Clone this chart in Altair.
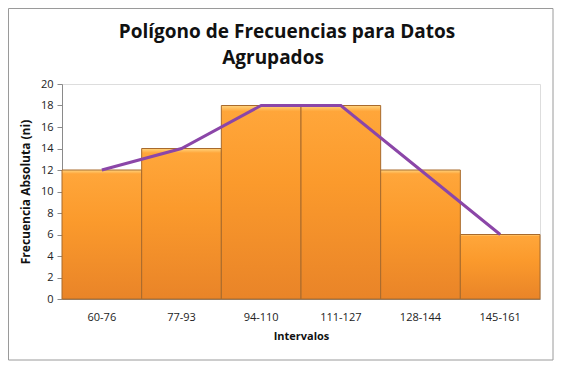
import altair as alt
import pandas as pd

intervalos = ["60-76", "77-93", "94-110", "111-127", "128-144", "145-161"]
frecuencias = [12, 14, 18, 18, 12, 6]
y_ticks = [0, 2, 4, 6, 8, 10, 12, 14, 16, 18, 20]
title_lines = ["Polígono de Frecuencias para Datos", "Agrupados"]

df = pd.DataFrame({"Intervalos": intervalos, "ni": frecuencias})

x_axis = alt.Axis(title="Intervalos", labelAngle=0, ticks=False,
                  labelFontSize=11, labelColor="#222222", labelPadding=12,
                  titleFontSize=11, titleFontWeight="bold", titleColor="#111111",
                  titlePadding=8, domainColor="#8a8a8a")
y_axis = alt.Axis(title="Frecuencia Absoluta (ni)", values=y_ticks, grid=True,
                  gridOpacity=0,
                  labelOverlap=False, labelSeparation=0,
                  labelFontSize=11, labelColor="#222222", tickColor="#8a8a8a",
                  tickSize=5, labelPadding=4, domainColor="#8a8a8a",
                  titleFontSize=12, titleFontWeight="bold", titleColor="#111111",
                  titlePadding=8)
x_scale = alt.Scale(paddingInner=0, paddingOuter=0)
y_scale = alt.Scale(domain=[0, 20], nice=False)

grad = alt.Gradient(
    gradient="linear", x1=0, y1=0, x2=0, y2=1,
    stops=[alt.GradientStop(color="#FFD47E", offset=0),
           alt.GradientStop(color="#FFA63A", offset=0.03),
           alt.GradientStop(color="#FB9A2C", offset=0.4),
           alt.GradientStop(color="#E98428", offset=1)])

bars = alt.Chart(df).mark_bar(fill=grad, stroke="#A86A2C", strokeWidth=1).encode(
    x=alt.X("Intervalos:N", sort=intervalos, scale=x_scale, axis=x_axis),
    y=alt.Y("ni:Q", scale=y_scale, axis=y_axis))
line = alt.Chart(df).mark_line(color="#8B46A8", strokeWidth=3, interpolate="linear").encode(
    x=alt.X("Intervalos:N", sort=intervalos, scale=x_scale, axis=x_axis),
    y=alt.Y("ni:Q", scale=y_scale, axis=y_axis))

frame = alt.Chart(pd.DataFrame({"a": [0]})).mark_rect(
    fill=None, stroke="#9a9a9a", strokeWidth=1).encode(
    x=alt.value(-53.5), x2=alt.value(491), y=alt.value(-75.5), y2=alt.value(276))

title1 = alt.Chart(pd.DataFrame({"t": [title_lines[0]]})).mark_text(
    font="Open Sans", fontSize=19, fontWeight="bold", color="#111111",
    align="center", baseline="alphabetic").encode(
    text="t:N", x=alt.value(225), y=alt.value(-46))
title2 = alt.Chart(pd.DataFrame({"t": [title_lines[1]]})).mark_text(
    font="Open Sans", fontSize=19, fontWeight="bold", color="#111111",
    align="center", baseline="alphabetic").encode(
    text="t:N", x=alt.value(211), y=alt.value(-20))

chart = alt.layer(frame, bars, line, title1, title2).properties(
    width=478, height=215,
    padding=0,
).configure_view(stroke="transparent", strokeWidth=0).configure(font="Open Sans", background="white")

chart.save("out.html", embed_options={"renderer": "svg", "actions": False})
